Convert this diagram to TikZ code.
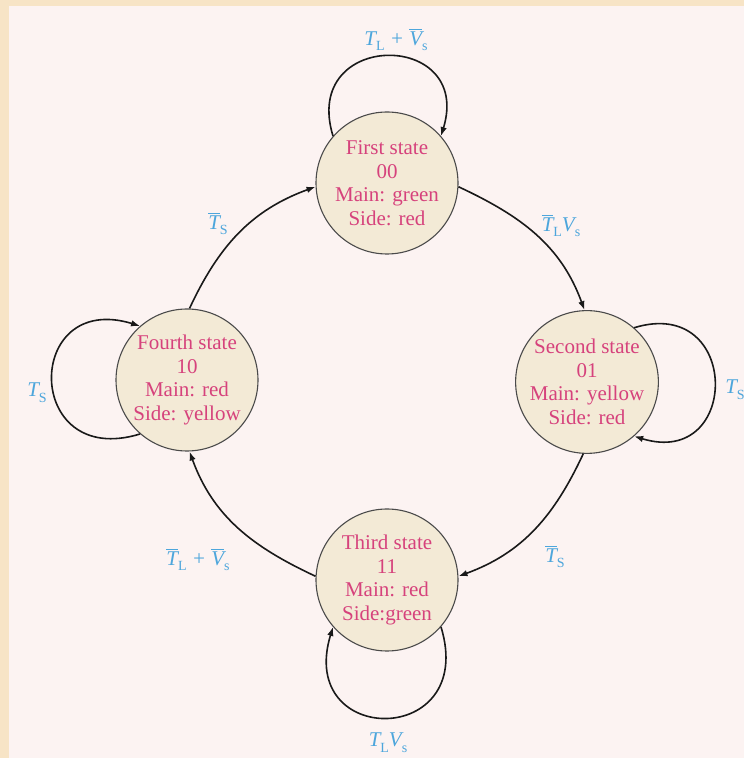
\documentclass[tikz,border=0pt]{standalone}
\usepackage{fontspec}
\setmainfont{Liberation Serif}
\usetikzlibrary{arrows.meta}

\definecolor{pagepeach}{HTML}{F7E4C6}
\definecolor{pagepink}{HTML}{FCF3F2}
\definecolor{statefill}{HTML}{F3EAD6}
\definecolor{statetext}{HTML}{D6427C}
\definecolor{labelblue}{HTML}{4DA6DC}
\definecolor{rimgray}{HTML}{4A4A4A}

% upright lowered subscript and a bar over a letter, for the transition conditions
\newcommand{\lsub}[1]{\raisebox{-0.28em}{\fontsize{14}{14}\selectfont\upshape #1}}
\newcommand{\ovl}[1]{\leavevmode\vbox{\hrule height 0.9pt\kern 1.6pt\hbox{#1}}}

\begin{document}
\begin{tikzpicture}[x=1pt,y=1pt,
  state/.style={circle, draw=rimgray, line width=1.1pt, fill=statefill,
    minimum size=142pt, inner sep=0pt, align=center, text=statetext,
    font=\fontsize{21}{23.5}\selectfont},
  cond/.style={text=labelblue, inner sep=0pt, font=\fontsize{21}{24}\selectfont\itshape},
  conn/.style={draw=black!90, line width=1.6pt, -{Latex[length=9pt,width=6.5pt]}}]

\useasboundingbox (0,0) rectangle (744,758);
\fill[pagepeach] (0,0) rectangle (744,758);
\fill[pagepink] (9,0) rectangle (744,752);

% the four states of the traffic-light controller
\node[state] (first)  at (387,575) {First state\\00\\Main: green\\Side: red};
\node[state] (second) at (587,376) {Second state\\01\\Main: yellow\\Side: red};
\node[state] (third)  at (387,178) {Third state\\11\\Main: red\\Side:green};
\node[state] (fourth) at (187,378) {Fourth state\\10\\Main: red\\Side: yellow};

% transitions between states
\draw[conn] (first.-3)   to[out=-25, in=110] (second.92);
\draw[conn] (second.-93) to[out=-115, in=20] (third.3);
\draw[conn] (third.177)  to[out=155, in=-70] (fourth.-88);
\draw[conn] (fourth.88)  to[out=65, in=200]  (first.183);

% self loops
\draw[conn] (first.139)  to[out=107, in=73, looseness=2.64]   (first.41);
\draw[conn] (second.49)  to[out=17, in=-17, looseness=2.64]   (second.-49);
\draw[conn] (third.-41)  to[out=-73, in=-107, looseness=3.0]  (third.-139);
\draw[conn] (fourth.229) to[out=197, in=163, looseness=2.9]   (fourth.131);

% conditions
\node[cond] (cTop)    at (396,718) {T\lsub{L} + \ovl{V}\lsub{s}};
\node[cond] (cRight)  at (735,368) {T\lsub{S}};
\node[cond] (cLeft)   at (37,365)  {T\lsub{S}};
\node[cond] (cBottom) at (388,15)  {T\lsub{L}V\lsub{s}};
\node[cond] (cFA)     at (218,534) {\ovl{T}\lsub{S}};
\node[cond] (cAB)     at (561,532) {\ovl{T}\lsub{L}V\lsub{s}};
\node[cond] (cBC)     at (555,201) {\ovl{T}\lsub{S}};
\node[cond] (cCD)     at (198,198) {\ovl{T}\lsub{L} + \ovl{V}\lsub{s}};
\end{tikzpicture}
\end{document}
